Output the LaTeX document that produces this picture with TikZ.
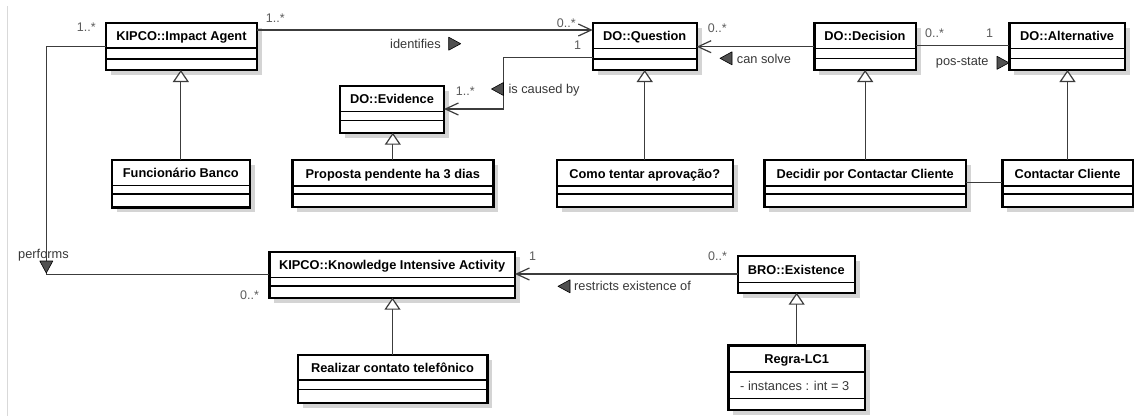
\documentclass[tikz,border=0pt]{standalone}
\usepackage{fontspec}
\setmainfont{Liberation Sans}
\usetikzlibrary{arrows.meta,shadows}

\definecolor{shadowgray}{HTML}{D4D4D4}
\definecolor{linkgray}{HTML}{3C3C3C}
\definecolor{labelgray}{HTML}{383838}
\definecolor{multgray}{HTML}{5C5C5C}
\definecolor{markgray}{HTML}{505050}
\definecolor{framegray}{HTML}{D9D9D9}

\tikzset{
  classbox/.style={draw=black, line width=2.4pt, fill=white, anchor=north west,
    inner sep=0pt, outer sep=0pt,
    drop shadow={shadow xshift=5pt, shadow yshift=-5pt, fill=shadowgray, opacity=1}},
  compline/.style={draw=black, line width=1.1pt},
  classname/.style={font=\bfseries\fontsize{12.8}{15}\selectfont, anchor=base, inner sep=0pt},
  attrtext/.style={font=\fontsize{12.8}{15}\selectfont, text=labelgray, anchor=base west, inner sep=0pt},
  assoc/.style={draw=linkgray, line width=1.2pt},
  navarrow/.style={-{Straight Barb[length=13pt,width=12pt]}},
  generalization/.style={draw=linkgray, line width=1.2pt,
    -{Triangle[length=12pt,width=16pt,fill=white]}},
  assoclabel/.style={font=\fontsize{12.8}{15}\selectfont, text=labelgray, anchor=base west, inner sep=0pt},
  multlabel/.style={font=\fontsize{12.5}{15}\selectfont, text=multgray, anchor=base west, inner sep=0pt},
  readmark/.style={fill=markgray, draw=black, line width=0.6pt, line join=round},
}

% UML class: name, left, top, right, bottom, title, first and second compartment rule
\newcommand\umlclass[8]{%
  \pgfmathsetmacro\clsw{#4-#2}%
  \pgfmathsetmacro\clsh{#5-#3}%
  \pgfmathsetmacro\clsx{(#2+#4)/2}%
  \pgfmathsetmacro\clsy{(#3+#7)/2+5}%
  \node[classbox, minimum width=\clsw pt, minimum height=\clsh pt] (#1) at (#2,#3) {};
  \node[classname] (#1-name) at (\clsx,\clsy) {#6};
  \draw[compline] (#2,#7) -- (#4,#7);
  \draw[compline] (#2,#8) -- (#4,#8);
}

% reading-direction triangle of an association name: x, y, angle
\newcommand\readmark[3]{%
  \filldraw[readmark, shift={(#1,#2)}, rotate=#3] (6,0) -- (-6,6.5) -- (-6,-6.5) -- cycle;}

\begin{document}
\begin{tikzpicture}[x=1pt, y=-1pt]
  \fill[white] (0,0) rectangle (1134,416);
  \useasboundingbox (0,0) rectangle (1134,416);
  \draw[framegray, line width=1pt] (7.3,6) -- (7.3,416);

  % classes
  \umlclass{agent}{106}{23}{257}{70}{KIPCO::Impact Agent}{48}{59}
  \umlclass{question}{592.7}{23}{696.7}{70}{DO::Question}{48.3}{59}
  \umlclass{decision}{814.3}{23}{915.7}{70}{DO::Decision}{48.3}{58.7}
  \umlclass{alternative}{1009.3}{23}{1125}{70}{DO::Alternative}{48.3}{58.7}
  \umlclass{evidence}{340}{85.7}{444}{132.7}{DO::Evidence}{111.7}{120.7}
  \umlclass{funcionario}{111.7}{160}{250}{207.3}{Funcionário Banco}{185.7}{194}
  \umlclass{proposta}{292.3}{160}{493.3}{207}{Proposta pendente ha 3 dias}{186}{194}
  \umlclass{como}{556.7}{160}{732.7}{206.7}{Como tentar aprovação?}{186}{194}
  \umlclass{decidir}{764.3}{160}{966}{207}{Decidir por Contactar Cliente}{186}{194}
  \umlclass{contactar}{1002.3}{160}{1132.7}{207}{Contactar Cliente}{186}{194}
  \umlclass{kia}{269.3}{252}{515}{297.7}{KIPCO::Knowledge Intensive Activity}{277.7}{286}
  \umlclass{realizar}{297.7}{355}{487.3}{402.7}{Realizar contato telefônico}{380}{389.3}
  \umlclass{existence}{737.7}{256}{855}{292.7}{BRO::Existence}{282.7}{282.7}
  \umlclass{regra}{728.3}{345.3}{865}{410}{Regra-LC1}{372}{398.3}
  \node[attrtext] (regra-attr) at (740,390) {- instances : int = 3};

  % associations
  \draw[assoc, navarrow] ([yshift=-7pt]agent.north east) -- ([yshift=-7pt]question.north west);
  \draw[assoc, navarrow] ([yshift=-34.3pt]question.north west) -- ++(-89.4,0)
    |- ([yshift=-23.3pt]evidence.north east);
  \draw[assoc, navarrow] ([yshift=-23.7pt]decision.north west) -- ([yshift=-23.7pt]question.north east);
  \draw[assoc] ([yshift=-22.7pt]decision.north east) -- ([yshift=-22.7pt]alternative.north west);
  \draw[assoc] ([yshift=-22.7pt]decidir.north east) -- ([yshift=-22.7pt]contactar.north west);
  \draw[assoc] ([yshift=-23.7pt]agent.north west) -- ++(-59.3,0)
    |- ([yshift=-22.3pt]kia.north west);
  \draw[assoc, navarrow] ([yshift=-18pt]existence.north west) -- ([yshift=-22pt]kia.north east);

  % generalizations
  \draw[generalization] (funcionario.north) -- (funcionario.north |- agent.south);
  \draw[generalization] (proposta.north) -- (proposta.north |- evidence.south);
  \draw[generalization] (como.north) -- (como.north |- question.south);
  \draw[generalization] (decidir.north) -- (decidir.north |- decision.south);
  \draw[generalization] (contactar.north) -- (contactar.north |- alternative.south);
  \draw[generalization] (realizar.north) -- (realizar.north |- kia.south);
  \draw[generalization] (regra.north) -- (regra.north |- existence.south);

  % association names and reading directions
  \node[assoclabel] (l-identifies) at (390,48.3) {identifies};
  \readmark{454.7}{43.7}{0}
  \node[assoclabel] (l-caused) at (508.3,93.3) {is caused by};
  \readmark{497.5}{89}{180}
  \node[assoclabel] (l-solve) at (736.7,63.3) {can solve};
  \readmark{726}{58.3}{180}
  \node[assoclabel] (l-posstate) at (935.7,65.7) {pos-state};
  \readmark{1003}{62.8}{0}
  \node[assoclabel] (l-performs) at (18,258.7) {performs};
  \readmark{46.3}{267}{-90}
  \node[assoclabel] (l-restricts) at (574,290.3) {restricts existence of};
  \readmark{564}{286.3}{180}

  % multiplicities
  \node[multlabel] (m-agent-q) at (265.7,22.7) {1..*};
  \node[multlabel] (m-agent-k) at (76.7,31.7) {1..*};
  \node[multlabel] (m-q-agent) at (556.7,27.3) {0..*};
  \node[multlabel] (m-q-ev) at (574,49) {1};
  \node[multlabel] (m-ev) at (455.7,95) {1..*};
  \node[multlabel] (m-q-dec) at (707.7,32.3) {0..*};
  \node[multlabel] (m-dec-alt) at (925,37.3) {0..*};
  \node[multlabel] (m-alt) at (986,37.3) {1};
  \node[multlabel] (m-kia-agent) at (240,299.3) {0..*};
  \node[multlabel] (m-kia-ex) at (529,260) {1};
  \node[multlabel] (m-ex) at (708,260) {0..*};
\end{tikzpicture}
\end{document}
